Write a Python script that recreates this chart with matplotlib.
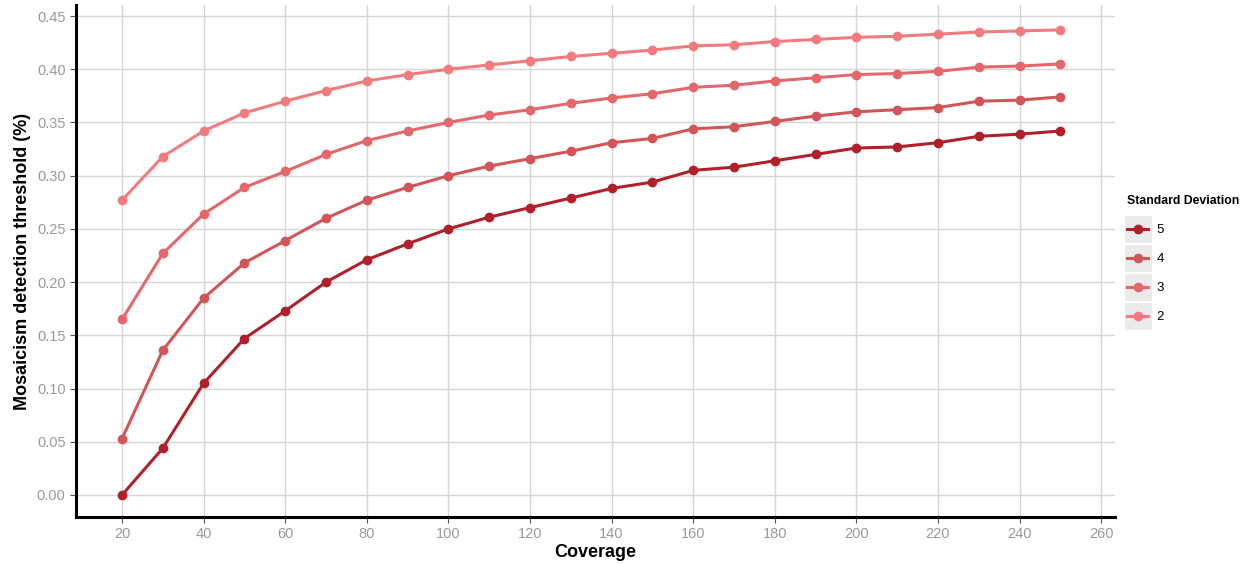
import numpy as np
import matplotlib
matplotlib.use("Agg")
import matplotlib.pyplot as plt
from matplotlib.patches import Rectangle

plt.rcParams['font.family'] = ['Liberation Sans', 'DejaVu Sans']

coverage = [20, 30, 40, 50, 60, 70, 80, 90, 100, 110, 120, 130, 140, 150,
            160, 170, 180, 190, 200, 210, 220, 230, 240, 250]

sd5 = [0.000, 0.044, 0.105, 0.147, 0.173, 0.200, 0.221, 0.236, 0.250, 0.261,
       0.270, 0.279, 0.288, 0.294, 0.305, 0.308, 0.314, 0.320, 0.326, 0.327,
       0.331, 0.337, 0.339, 0.342]
sd4 = [0.053, 0.136, 0.185, 0.218, 0.239, 0.260, 0.277, 0.289, 0.300, 0.309,
       0.316, 0.323, 0.331, 0.335, 0.344, 0.346, 0.351, 0.356, 0.360, 0.362,
       0.364, 0.370, 0.371, 0.374]
sd3 = [0.165, 0.227, 0.264, 0.289, 0.304, 0.320, 0.333, 0.342, 0.350, 0.357,
       0.362, 0.368, 0.373, 0.377, 0.383, 0.385, 0.389, 0.392, 0.395, 0.396,
       0.398, 0.402, 0.403, 0.405]
sd2 = [0.277, 0.318, 0.342, 0.359, 0.370, 0.380, 0.389, 0.395, 0.400, 0.404,
       0.408, 0.412, 0.415, 0.418, 0.422, 0.423, 0.426, 0.428, 0.430, 0.431,
       0.433, 0.435, 0.436, 0.437]

labels = ['5', '4', '3', '2']
series = [sd5, sd4, sd3, sd2]
colors = ['#B0202A', '#D25558', '#E4676B', '#F27B7E']

fig = plt.figure(figsize=(12.49, 5.64), dpi=100)
ax = fig.add_axes([0.0608, 0.0833, 0.8319, 0.9077])

for lab, ys, c in zip(labels, series, colors):
    ax.plot(coverage, ys, color=c, lw=2.2, marker='o', ms=6, label=lab)

ax.set_xlim(8.7, 263.4)
ax.set_ylim(-0.0207, 0.4603)
ax.set_xticks(np.arange(20, 261, 20))
ax.set_yticks(np.arange(0, 0.451, 0.05))
ax.yaxis.set_major_formatter(matplotlib.ticker.FormatStrFormatter('%.2f'))

ax.grid(True, color='#d6d6d6', lw=1)
ax.set_axisbelow(True)
for s in ['top', 'right']:
    ax.spines[s].set_visible(False)
for s in ['left', 'bottom']:
    ax.spines[s].set_linewidth(2.2)
    ax.spines[s].set_color('black')
ax.tick_params(colors='#555555', labelcolor='#9a9a9a', labelsize=10.5,
               length=4, width=0.8)

ax.set_xlabel('Coverage', fontsize=13, fontweight='bold', labelpad=2)
ax.set_ylabel('Mosaicism detection threshold (%)', fontsize=13,
              fontweight='bold', labelpad=4)

leg = fig.legend(loc='upper left', bbox_to_anchor=(1122 / 1249, 1 - 190 / 564),
                 frameon=False, title='Standard Deviation',
                 fontsize=9.5, handlelength=1.6, labelspacing=1.27,
                 handletextpad=0.6, borderaxespad=0)
leg.get_title().set_fontweight('bold')
leg.get_title().set_fontsize(8.8)
leg._legend_box.align = 'left'

# grey key backgrounds like ggplot, placed around each legend handle
fig.canvas.draw()
inv = fig.transFigure.inverted()
for h in leg.legend_handles:
    bb = h.get_window_extent(fig.canvas.get_renderer())
    cx = (bb.x0 + bb.x1) / 2
    cy = (bb.y0 + bb.y1) / 2
    (x0, y0) = inv.transform((cx - 14, cy - 14))
    (x1, y1) = inv.transform((cx + 14, cy + 14))
    fig.add_artist(Rectangle((x0, y0), x1 - x0, y1 - y0,
                             transform=fig.transFigure, facecolor='#ebebeb',
                             edgecolor='white', lw=0.8, zorder=0))

fig.savefig('out.png', dpi=100)
